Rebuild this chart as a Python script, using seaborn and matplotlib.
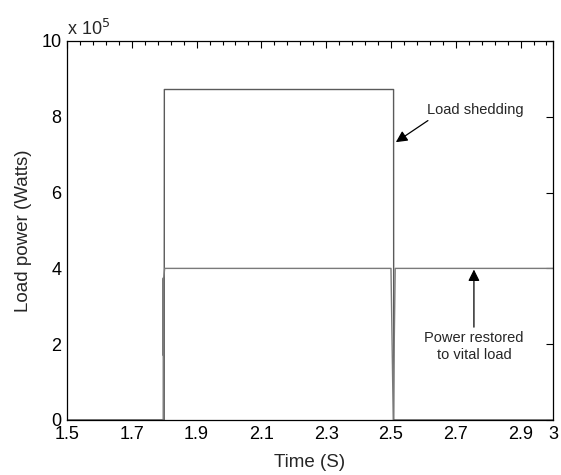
import numpy as np
import pandas as pd
import matplotlib
matplotlib.use("Agg")
import matplotlib.pyplot as plt
from matplotlib.ticker import FixedLocator, FuncFormatter
import seaborn as sns

# Load power traces (time in s, power in W)
t_shed = [1.5, 1.8, 1.8005, 2.508, 2.5085, 3.0]
p_shed = [0, 0, 8.72e5, 8.72e5, 0, 0]

t_vital = [1.5, 1.797, 1.7972, 1.7976, 1.798, 1.8015, 2.500, 2.507, 2.513, 3.0]
p_vital = [0, 0, 3.75e5, 1.7e5, 3.7e5, 4.0e5, 4.0e5, 0, 4.0e5, 4.0e5]

x_ticks = [1.5, 1.7, 1.9, 2.1, 2.3, 2.5, 2.7, 2.9, 3.0]
y_ticks = [0, 2e5, 4e5, 6e5, 8e5, 10e5]


def main():
    sns.set_style("white")
    plt.rcParams["font.family"] = ["Liberation Sans", "DejaVu Sans"]

    fig = plt.figure(figsize=(5.61, 4.75), dpi=100)
    ax = fig.add_axes([0.1194, 0.1158, 0.8663, 0.7979])

    shed = pd.DataFrame({"t": t_shed, "p": p_shed})
    vital = pd.DataFrame({"t": t_vital, "p": p_vital})
    sns.lineplot(data=shed, x="t", y="p", sort=False, estimator=None,
                 color="#5a5a5a", lw=1.0, ax=ax)
    sns.lineplot(data=vital, x="t", y="p", sort=False, estimator=None,
                 color="#7a7a7a", lw=1.0, ax=ax)

    ax.set_xlim(1.5, 3.0)
    ax.set_ylim(0, 10e5)
    ax.set_xticks(x_ticks)
    ax.set_xticklabels([f"{v:g}" for v in x_ticks])
    ax.xaxis.set_minor_locator(FixedLocator(np.arange(1.5, 3.0, 0.04)))
    ax.set_yticks(y_ticks)
    ax.yaxis.set_major_formatter(FuncFormatter(lambda v, _: f"{v / 1e5:g}"))

    ax.tick_params(which="both", direction="in", top=True, right=True,
                   labelsize=13, colors="black")
    ax.tick_params(axis="x", pad=4)
    ax.tick_params(axis="y", pad=4)
    ax.tick_params(which="major", length=5, width=0.8)
    ax.tick_params(which="minor", length=3, width=0.8)
    for s in ax.spines.values():
        s.set_color("black")
        s.set_linewidth(0.9)

    ax.set_xlabel("Time (S)", fontsize=13.5, labelpad=8)
    ax.set_ylabel("Load power (Watts)", fontsize=13.5, labelpad=7)

    ax.text(0.0, 1.004, r"x 10$^{5}$", transform=ax.transAxes,
            fontsize=13, ha="left", va="bottom")

    arrow = dict(arrowstyle="-|>", color="black", lw=0.9,
                 shrinkA=0, shrinkB=0, mutation_scale=17)
    ax.text(2.61, 8.17e5, "Load shedding", fontsize=10.5,
            ha="left", va="center")
    ax.annotate("", xy=(2.515, 7.33e5), xytext=(2.614, 7.9e5),
                arrowprops=arrow)
    ax.text(2.756, 1.93e5, "Power restored\nto vital load", fontsize=10.5,
            ha="center", va="center", linespacing=1.25)
    ax.annotate("", xy=(2.756, 3.97e5), xytext=(2.756, 2.45e5),
                arrowprops=arrow)

    fig.savefig("out.png", dpi=100)


if __name__ == "__main__":
    main()
